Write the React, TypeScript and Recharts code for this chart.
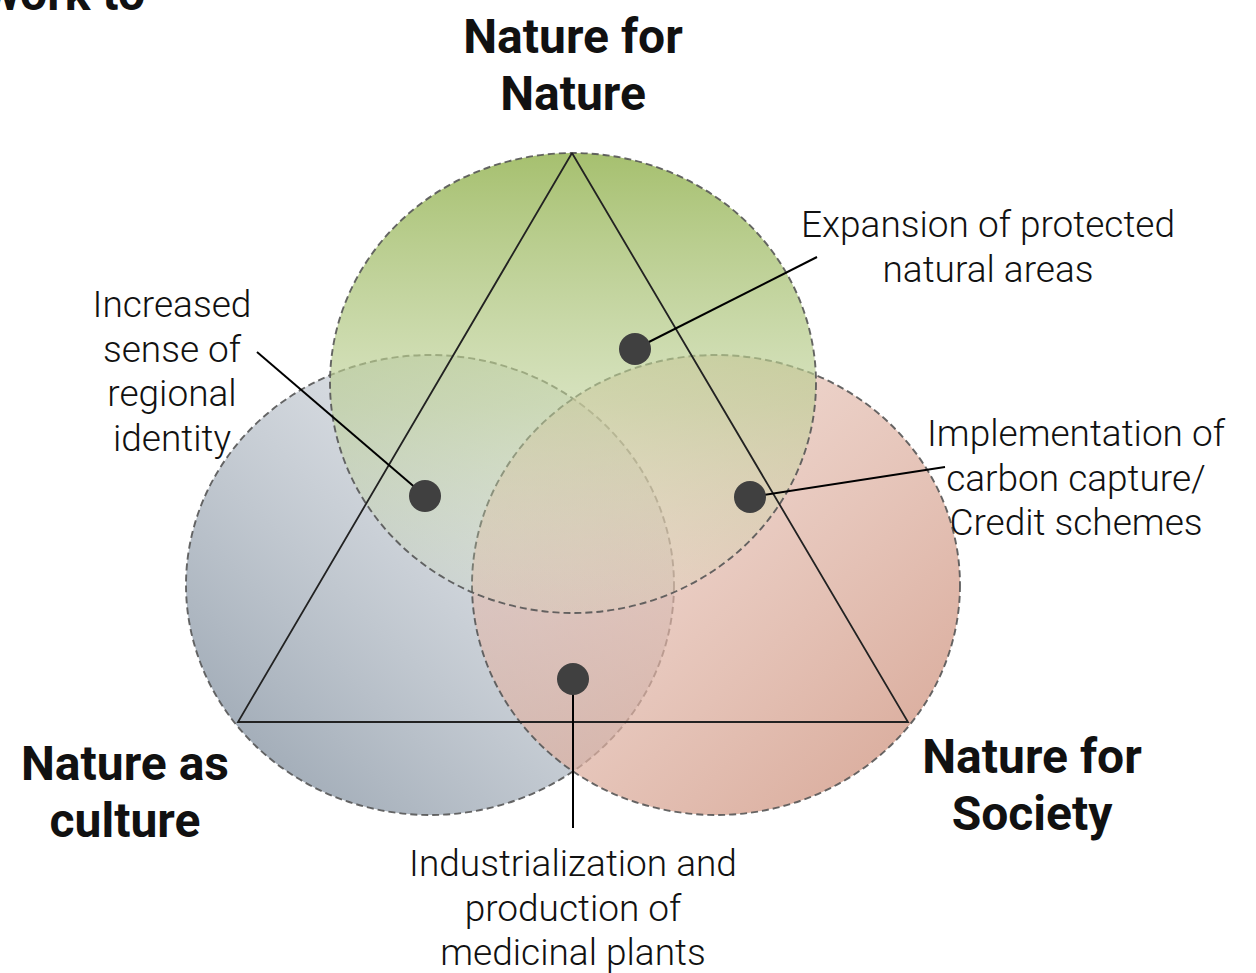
import React from 'react';
import { ScatterChart, Scatter, XAxis, YAxis } from 'recharts';

const W = 1256;
const H = 973;

// Venn circles (centre + radii in chart units, 1 unit = 1 px)
const circleNames = ['Nature as culture', 'Nature for Society', 'Nature for Nature'];
const circleX = [430, 716, 573];
const circleY = [585, 585, 383];
const circleRx = [244, 244, 243];
const circleRy = [230, 230, 230];
const circleGrad = ['gradGrey', 'gradPink', 'gradGreen'];

// Triangle vertices (closed path)
const triX = [572, 908, 238, 572];
const triY = [153, 722, 722, 153];

// Example dots
const dotX = [635, 425, 750, 573];
const dotY = [349, 496, 497, 679];

// Leader line ends (from dot to label)
const leaderX = [817, 257, 945, 573];
const leaderY = [257, 352, 467, 828];

// Labels
const labelLines = [
  ['Expansion of protected', 'natural areas'],
  ['Increased', 'sense of', 'regional', 'identity'],
  ['Implementation of', 'carbon capture/', 'Credit schemes'],
  ['Industrialization and', 'production of', 'medicinal plants'],
];
const labelX = [988, 172, 1076, 573];
const labelY = [237, 317, 446, 876];

const titleLines = [['Nature for', 'Nature'], ['Nature as', 'culture'], ['Nature for', 'Society']];
const titleX = [573, 125, 1032];
const titleY = [53, 780, 773];

const circleData = circleNames.map((n, i) => ({
  name: n, x: circleX[i], y: circleY[i], rx: circleRx[i], ry: circleRy[i], grad: circleGrad[i],
}));
const triData = triX.map((x, i) => ({ x, y: triY[i] }));
const leaderData = dotX.map((x, i) => [
  { x, y: dotY[i] },
  { x: leaderX[i], y: leaderY[i] },
]);
const dotData = dotX.map((x, i) => ({ x, y: dotY[i] }));
const labelData = labelLines.map((l, i) => ({ x: labelX[i], y: labelY[i], lines: l }));
const titleData = titleLines.map((l, i) => ({ x: titleX[i], y: titleY[i], lines: l }));
const cornerData = [{ x: 145, y: 10, lines: ['work to'] }];

const EllipseShape = (props: any) => {
  const { cx, cy, payload } = props;
  return (
    <ellipse
      cx={cx}
      cy={cy}
      rx={payload.rx}
      ry={payload.ry}
      fill={`url(#${payload.grad})`}
      stroke="#555"
      strokeOpacity={0.9}
      strokeWidth={1.9}
      strokeDasharray="7 4"
    />
  );
};

const NoShape = () => <g />;
const DotShape = (props: any) => <circle cx={props.cx} cy={props.cy} r={16} fill="#404040" />;

const makeText = (size: number, weight: number, lh: number, anchor: string) => (props: any) => {
  const { cx, cy, payload } = props;
  return (
    <text
      x={cx}
      y={cy}
      textAnchor={anchor as any}
      fontFamily="Roboto, 'Noto Sans', sans-serif"
      fontSize={size}
      fontWeight={weight}
      fill="#111"
    >
      {payload.lines.map((l: string, i: number) => (
        <tspan key={i} x={cx} y={cy + i * lh}>
          {l}
        </tspan>
      ))}
    </text>
  );
};

const LabelShape = makeText(37, 300, 44.5, 'middle');
const TitleShape = makeText(48, 700, 57, 'middle');
const CornerShape = makeText(48, 700, 57, 'end');

export default function App() {
  return (
    <div style={{ position: 'absolute', left: 0, top: 0, width: W, height: H, background: '#fff' }}>
      <ScatterChart width={W} height={H} margin={{ top: 0, right: 0, bottom: 0, left: 0 }}>
        <defs>
          <linearGradient id="gradGreen" x1="0" y1="0" x2="0" y2="1">
            <stop offset="0%" stopColor="#a6c06f" stopOpacity={1} />
            <stop offset="55%" stopColor="#bccf94" stopOpacity={0.6} />
            <stop offset="100%" stopColor="#d2dfb8" stopOpacity={0.12} />
          </linearGradient>
          <linearGradient id="gradGrey" x1="0" y1="1" x2="1" y2="0">
            <stop offset="0%" stopColor="#8c99a7" stopOpacity={0.95} />
            <stop offset="100%" stopColor="#c8ced6" stopOpacity={0.3} />
          </linearGradient>
          <linearGradient id="gradPink" x1="0" y1="0" x2="1" y2="1">
            <stop offset="0%" stopColor="#e8c4b8" stopOpacity={0.45} />
            <stop offset="100%" stopColor="#d4a08e" stopOpacity={0.95} />
          </linearGradient>
        </defs>
        <XAxis type="number" dataKey="x" domain={[0, W]} hide allowDataOverflow />
        <YAxis type="number" dataKey="y" domain={[0, H]} reversed hide allowDataOverflow />
        <Scatter data={circleData} shape={EllipseShape} isAnimationActive={false} />
        <Scatter
          data={triData}
          shape={NoShape}
          line={{ stroke: '#222', strokeWidth: 1.8 }}
          lineType="joint"
          isAnimationActive={false}
        />
        {leaderData.map((d, i) => (
          <Scatter
            key={`l${i}`}
            data={d}
            shape={NoShape}
            line={{ stroke: '#000', strokeWidth: 2 }}
            lineType="joint"
            isAnimationActive={false}
          />
        ))}
        <Scatter data={dotData} shape={DotShape} isAnimationActive={false} />
        <Scatter data={labelData} shape={LabelShape} isAnimationActive={false} />
        <Scatter data={titleData} shape={TitleShape} isAnimationActive={false} />
        <Scatter data={cornerData} shape={CornerShape} isAnimationActive={false} />
      </ScatterChart>
    </div>
  );
}
